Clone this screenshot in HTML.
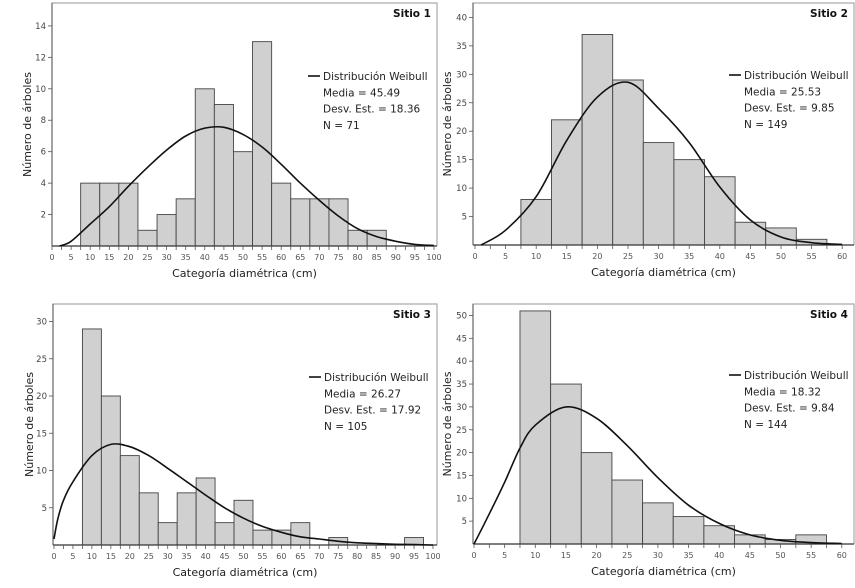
<!DOCTYPE html>
<html><head><meta charset="utf-8">
<style>
html,body{margin:0;padding:0;background:#fff;}
svg{display:block;font-family:"DejaVu Sans","Liberation Sans",sans-serif;}
</style></head>
<body>
<svg id="chart" width="855" height="588" viewBox="0 0 855 588" xmlns="http://www.w3.org/2000/svg"></svg>
<script>
// ---- data ----
const s1Bins = [10,15,20,25,30,35,40,45,50,55,60,65,70,75,80,85];
const s1Counts = [4,4,4,1,2,3,10,9,6,13,4,3,3,3,1,1];
const s1CurveX = [2,5,10,15,20,25,30,35,40,45,50,55,60,65,70,75,80,85,90,95,100];
const s1CurveY = [0,0.3,1.4,2.5,3.8,5.0,6.1,7.0,7.5,7.55,7.1,6.3,5.2,4.0,2.9,1.9,1.1,0.6,0.3,0.1,0.03];
const s1YTicks = [2,4,6,8,10,12,14];
const s1XTicks = [0,5,10,15,20,25,30,35,40,45,50,55,60,65,70,75,80,85,90,95,100];
const s1Legend = ["Distribución Weibull","Media = 45.49","Desv. Est. = 18.36","N = 71"];

const s2Bins = [10,15,20,25,30,35,40,45,50,55];
const s2Counts = [8,22,37,29,18,15,12,4,3,1];
const s2CurveX = [1,5,10,15,20,25,30,35,40,45,50,55,60];
const s2CurveY = [0,2.6,8.5,18.4,26,28.6,24,18,10.2,4.4,1.4,0.4,0.1];
const s2YTicks = [5,10,15,20,25,30,35,40];
const s2XTicks = [0,5,10,15,20,25,30,35,40,45,50,55,60];
const s2Legend = ["Distribución Weibull","Media = 25.53","Desv. Est. = 9.85","N = 149"];

const s3Bins = [10,15,20,25,30,35,40,45,50,55,60,65,70,75,80,85,90,95];
const s3Counts = [29,20,12,7,3,7,9,3,6,2,2,3,0,1,0,0,0,1];
const s3CurveX = [0,1,2.5,5,10,15,20,25,30,35,40,45,50,55,60,65,70,75,80,85,90,95,100];
const s3CurveY = [0.8,3.5,6,8.5,12,13.5,13.2,12,10.3,8.5,6.7,5,3.6,2.5,1.7,1.1,0.8,0.5,0.3,0.2,0.1,0.05,0];
const s3YTicks = [5,10,15,20,25,30];
const s3XTicks = [0,5,10,15,20,25,30,35,40,45,50,55,60,65,70,75,80,85,90,95,100];
const s3Legend = ["Distribución Weibull","Media = 26.27","Desv. Est. = 17.92","N = 105"];

const s4Bins = [10,15,20,25,30,35,40,45,50,55];
const s4Counts = [51,35,20,14,9,6,4,2,1,2];
const s4CurveX = [0,2.5,5,7.5,10,15,20,25,30,35,40,45,50,55,60];
const s4CurveY = [0,6.6,13.5,21,26,30,27.5,21.5,14.5,8.5,4.5,2,0.8,0.3,0.1];
const s4YTicks = [5,10,15,20,25,30,35,40,45,50];
const s4XTicks = [0,5,10,15,20,25,30,35,40,45,50,55,60];
const s4Legend = ["Distribución Weibull","Media = 18.32","Desv. Est. = 9.84","N = 144"];

const svg = document.getElementById('chart');
const NS = 'http://www.w3.org/2000/svg';
function mk(tag, attrs, parent, txt){
  const e = document.createElementNS(NS, tag);
  for (const k in attrs) e.setAttribute(k, attrs[k]);
  if (txt !== undefined) e.textContent = txt;
  parent.appendChild(e);
  return e;
}
function smoothPath(pts){
  let d = 'M' + pts[0][0].toFixed(1) + ',' + pts[0][1].toFixed(1);
  for (let i = 0; i < pts.length - 1; i++){
    const p0 = pts[Math.max(0, i - 1)], p1 = pts[i], p2 = pts[i + 1], p3 = pts[Math.min(pts.length - 1, i + 2)];
    const c1x = p1[0] + (p2[0] - p0[0]) / 6, c1y = p1[1] + (p2[1] - p0[1]) / 6;
    const c2x = p2[0] - (p3[0] - p1[0]) / 6, c2y = p2[1] - (p3[1] - p1[1]) / 6;
    d += ` C${c1x.toFixed(1)},${c1y.toFixed(1)} ${c2x.toFixed(1)},${c2y.toFixed(1)} ${p2[0].toFixed(1)},${p2[1].toFixed(1)}`;
  }
  return d;
}

function panel(cfg){
  const g = mk('g', {}, svg);
  
  
  const xs = v => cfg.x0 + v * cfg.xu;
  const ys = v => cfg.y0 - v * cfg.yu;
  const fr = mk('path', {d:`M${cfg.left},${cfg.y0} L${cfg.left},${cfg.top} L${cfg.right},${cfg.top} L${cfg.right},${cfg.y0}`, fill:'none', stroke:'#aaa', 'stroke-width':1.2}, g);
  
  
  const bg = mk('g', {}, g);
  
  
  cfg.bins.forEach((c, i) => {
    const v = cfg.counts[i];
    if (v <= 0) return;
    const x1 = xs(c - 2.5), x2 = xs(c + 2.5);
    const r = mk('rect', {x:x1, y:ys(v), width:x2 - x1, height:ys(0) - ys(v), fill:'#d0d0d0', stroke:'#444', 'stroke-width':0.9}, bg);
    
    
  });
  const ax = mk('line', {x1:cfg.left, y1:cfg.y0, x2:cfg.right, y2:cfg.y0, stroke:'#333', 'stroke-width':1.2}, g);
  
  
  const ay = mk('line', {x1:cfg.left, y1:cfg.y0, x2:cfg.left, y2:cfg.top, stroke:'#555', 'stroke-width':1}, g);
  
  
  for (let v = 0; v <= cfg.xmax + 0.01; v += 2.5){
    mk('line', {x1:xs(v), y1:cfg.y0, x2:xs(v), y2:cfg.y0 + 4, stroke:'#555', 'stroke-width':0.8}, g);
  }
  cfg.xticks.forEach(v => {
    const t = mk('text', {x:xs(v), y:cfg.y0 + 14, 'font-size':8, fill:'#555', 'text-anchor':'middle'}, g, String(v));
    
    
  });
  cfg.yticks.forEach(v => {
    mk('line', {x1:cfg.left - 4, y1:ys(v), x2:cfg.left, y2:ys(v), stroke:'#555', 'stroke-width':0.8}, g);
    const t = mk('text', {x:cfg.left - 6, y:ys(v) + 3, 'font-size':8.5, fill:'#444', 'text-anchor':'end'}, g, String(v));
    
    
  });
  const pts = cfg.cx.map((x, i) => [xs(x), ys(cfg.cy[i])]);
  const cv = mk('path', {d:smoothPath(pts), fill:'none', stroke:'#111', 'stroke-width':1.6, 'stroke-linejoin':'round'}, g);
  
  
  const tt = mk('text', {x:cfg.right - 6, y:cfg.top + 14, 'font-size':10.5, 'font-weight':'bold', fill:'#111', 'text-anchor':'end'}, g, cfg.title);
  
  
  const lg = mk('g', {}, g);
  
  
  mk('line', {x1:cfg.lx, y1:cfg.ly - 4, x2:cfg.lx + 12, y2:cfg.ly - 4, stroke:'#111', 'stroke-width':1.6}, lg);
  cfg.legend.forEach((s, i) => {
    const t = mk('text', {x:cfg.lx + 15, y:cfg.ly + i * 16.3, 'font-size':10.5, fill:'#222'}, lg, s);
    
    
  });
  const xt = mk('text', {x:(cfg.left + cfg.right) / 2, y:cfg.y0 + 31, 'font-size':11, fill:'#222', 'text-anchor':'middle'}, g, 'Categoría diamétrica (cm)');
  
  
  const ycen = (cfg.top + cfg.y0) / 2;
  const yt = mk('text', {x:cfg.ytx, y:ycen, 'font-size':11, fill:'#222', 'text-anchor':'middle', transform:`rotate(-90 ${cfg.ytx} ${ycen})`}, g, 'Número de árboles');
  
  
}

panel({name:'panel-sitio-1', title:'Sitio 1', bins:s1Bins, counts:s1Counts, cx:s1CurveX, cy:s1CurveY, yticks:s1YTicks, xticks:s1XTicks, legend:s1Legend,
  x0:52, xu:3.82, y0:246, yu:15.72, left:52, right:437, top:3, xmax:102, lx:308, ly:80, ytx:31});
panel({name:'panel-sitio-2', title:'Sitio 2', bins:s2Bins, counts:s2Counts, cx:s2CurveX, cy:s2CurveY, yticks:s2YTicks, xticks:s2XTicks, legend:s2Legend,
  x0:475, xu:6.12, y0:245, yu:5.69, left:473, right:854, top:3, xmax:62, lx:729, ly:79, ytx:451});
panel({name:'panel-sitio-3', title:'Sitio 3', bins:s3Bins, counts:s3Counts, cx:s3CurveX, cy:s3CurveY, yticks:s3YTicks, xticks:s3XTicks, legend:s3Legend,
  x0:54, xu:3.79, y0:545, yu:7.45, left:53, right:437, top:304, xmax:102, lx:309, ly:381, ytx:33});
panel({name:'panel-sitio-4', title:'Sitio 4', bins:s4Bins, counts:s4Counts, cx:s4CurveX, cy:s4CurveY, yticks:s4YTicks, xticks:s4XTicks, legend:s4Legend,
  x0:474, xu:6.13, y0:544, yu:4.57, left:473, right:854, top:304, xmax:62, lx:729, ly:379, ytx:451});
</script>
</body></html>
